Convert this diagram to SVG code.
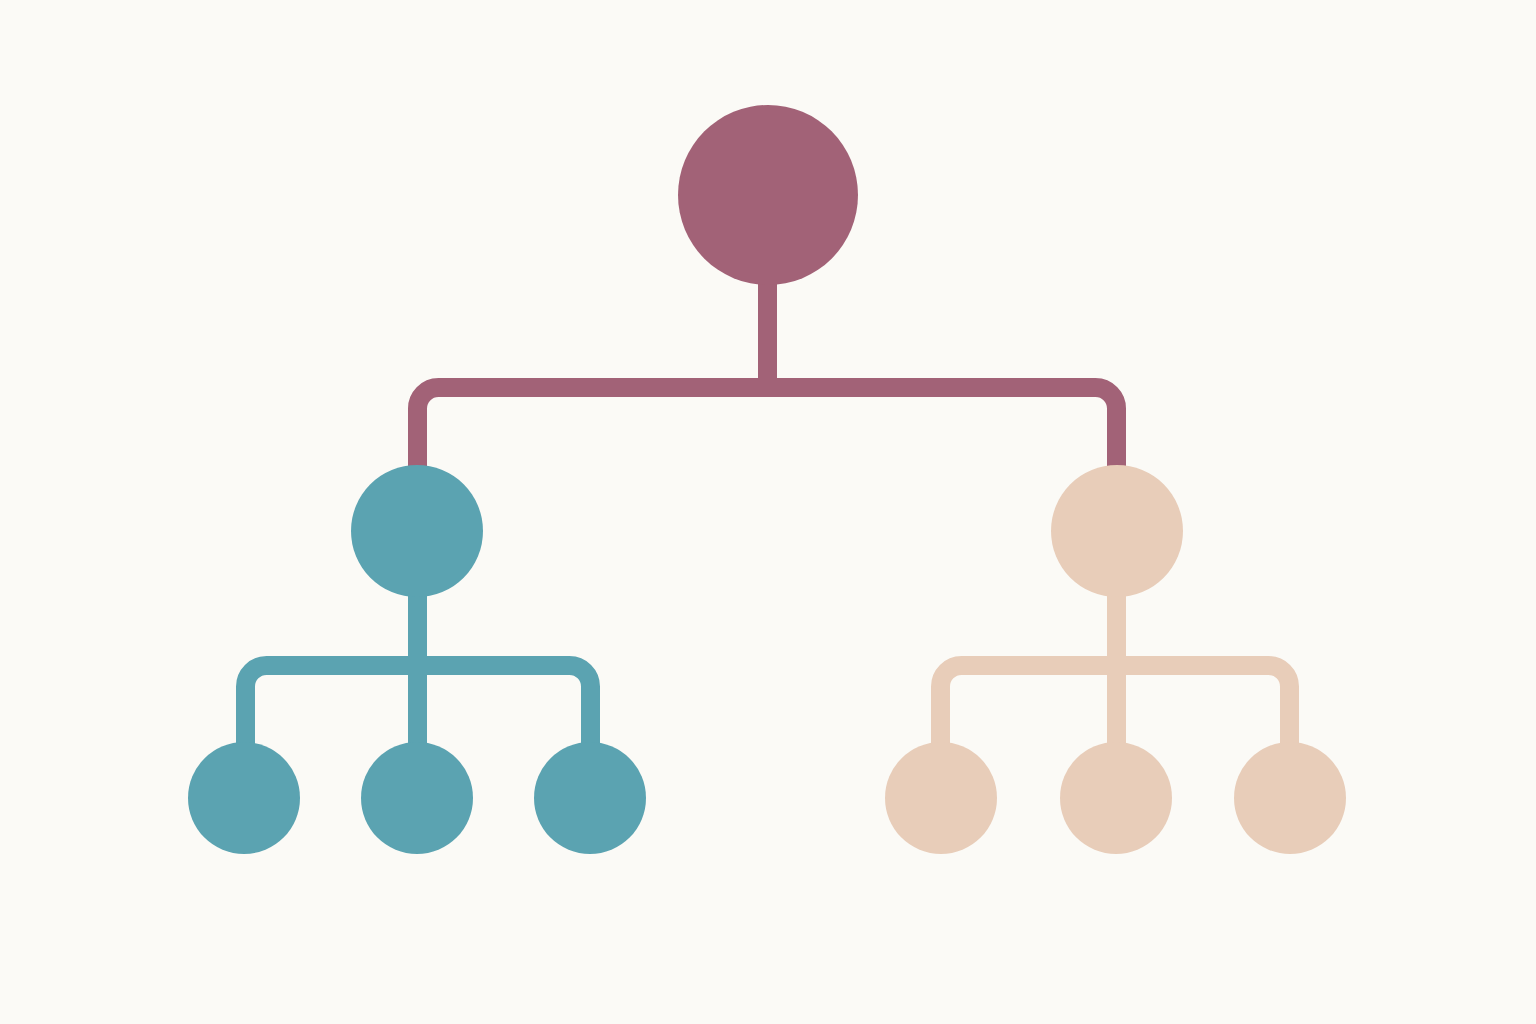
<svg xmlns="http://www.w3.org/2000/svg" width="1536" height="1024" viewBox="0 0 1536 1024">
<style>
.c{fill:none;stroke-width:19;stroke-linecap:butt}
.plum{fill:#A26277}.plumS{stroke:#A26277}
.teal{fill:#5BA3B1}.tealS{stroke:#5BA3B1}
.peach{fill:#E8CDB9}.peachS{stroke:#E8CDB9}
</style>
<rect width="1536" height="1024" fill="#FBFAF6"/>
<g id="connectors">
<path class="c plumS" d="M767.5 280 V390"/>
<path class="c plumS" d="M417.5 475 V409 A21 21 0 0 1 438.5 387.5 H1095.5 A21 21 0 0 1 1116.5 409 V475"/>
<path class="c tealS" d="M417.5 590 V755"/>
<path class="c tealS" d="M245.5 755 V686.5 A21 21 0 0 1 266.5 665.5 H569.5 A21 21 0 0 1 590.5 686.5 V755"/>
<path class="c peachS" d="M1116.5 590 V755"/>
<path class="c peachS" d="M940.5 755 V686.5 A21 21 0 0 1 961.5 665.5 H1268.5 A21 21 0 0 1 1289.5 686.5 V755"/>
</g>
<g id="root"><circle class="plum" cx="768" cy="195" r="90"/></g>
<g id="left"><circle class="teal" cx="417" cy="531" r="66"/></g>
<g id="right"><circle class="peach" cx="1117" cy="531" r="66"/></g>
<g id="left-1"><circle class="teal" cx="244" cy="798" r="56"/></g>
<g id="left-2"><circle class="teal" cx="417" cy="798" r="56"/></g>
<g id="left-3"><circle class="teal" cx="590" cy="798" r="56"/></g>
<g id="right-1"><circle class="peach" cx="941" cy="798" r="56"/></g>
<g id="right-2"><circle class="peach" cx="1116" cy="798" r="56"/></g>
<g id="right-3"><circle class="peach" cx="1290" cy="798" r="56"/></g>
</svg>
